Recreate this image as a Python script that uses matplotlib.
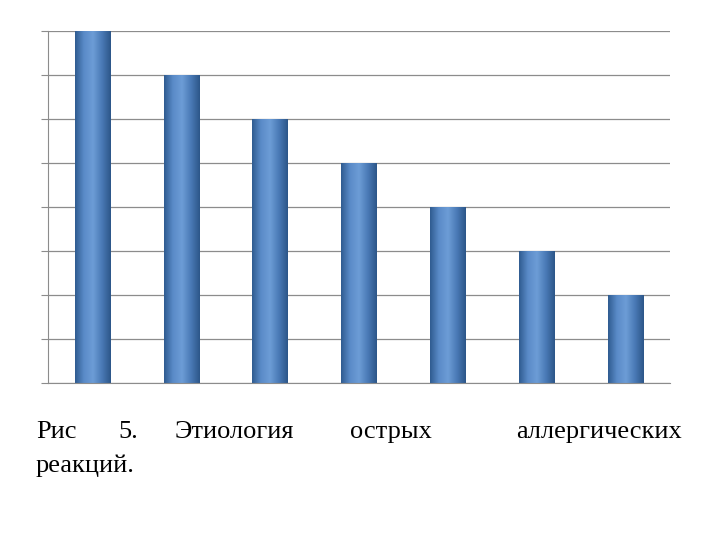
import numpy as np
import matplotlib
matplotlib.use("Agg")
import matplotlib.pyplot as plt
from matplotlib.colors import LinearSegmentedColormap

categories = ["1", "2", "3", "4", "5", "6", "7"]
values = [8, 7, 6, 5, 4, 3, 2]
caption_words = ["Рис", "5.", "Этиология", "острых", "аллергических"]
caption_line2 = "реакций."

fig = plt.figure(figsize=(7.2, 5.4), dpi=100)
ax = fig.add_axes([48/720, 1-383/540, 622/720, 352/540])
x = np.arange(len(categories))
ax.set_xlim(-0.5, len(categories)-0.5)
ax.set_ylim(0, 8)
ax.set_yticks(range(0, 9))
ax.set_yticklabels([])
ax.set_xticks([])
ax.grid(axis="y", color="#8c8c8c", lw=0.9)
ax.set_axisbelow(True)
for s in ["top", "right"]:
    ax.spines[s].set_visible(False)
ax.spines["left"].set_color("#8c8c8c")
ax.spines["bottom"].set_color("#8c8c8c")
ax.tick_params(axis="y", length=5, color="#8c8c8c")

cmap = LinearSegmentedColormap.from_list("g", ["#2f5b90", "#5a8bc8", "#6d9dd6", "#4a7ab6", "#2c5688"])
grad = np.linspace(0, 1, 256).reshape(1, -1)
w = 0.4
bars = ax.bar(x, values, width=w, color="none")
for b in bars:
    x0, y0, h = b.get_x(), b.get_y(), b.get_height()
    im = ax.imshow(grad, cmap=cmap, aspect="auto", extent=[x0, x0+w, y0, y0+h], zorder=2)
    im.set_clip_path(b)

serif = ["Liberation Serif", "DejaVu Serif"]
fs = 19
yl1 = 1-432/540
pos = [(36, "left"), (118, "left"), (175, "left"), (350, "left"), (682, "right")]
for (px, ha), wd in zip(pos, caption_words):
    fig.text(px/720, yl1, wd, ha=ha, va="center", fontsize=fs, family=serif)
fig.text(36/720, 1-466/540, caption_line2, ha="left", va="center", fontsize=fs, family=serif)

fig.savefig("out.png", dpi=100)
